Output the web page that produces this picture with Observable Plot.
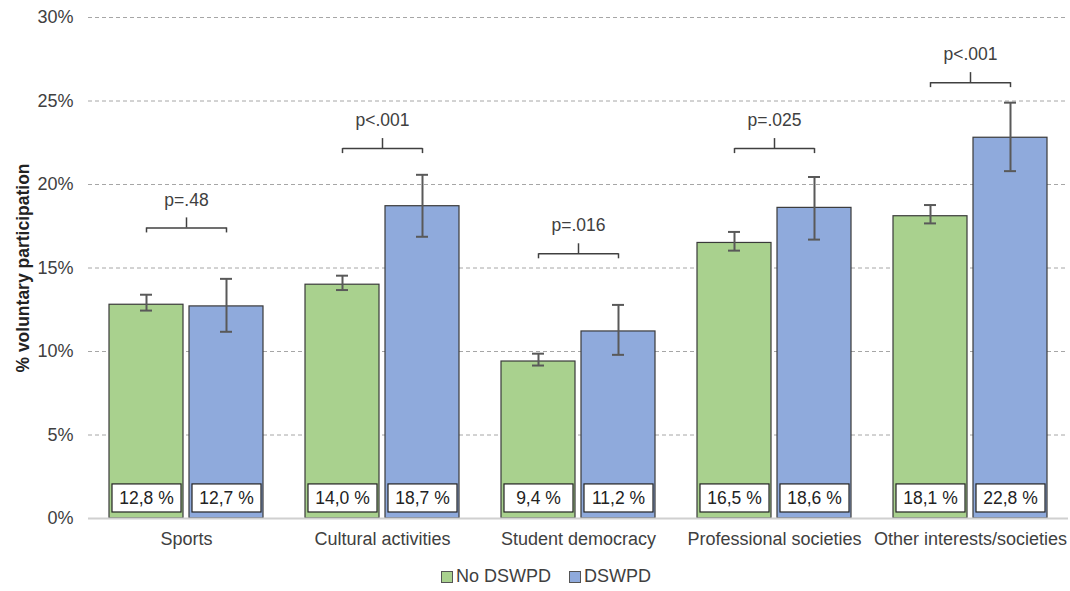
<!DOCTYPE html>
<html><head><meta charset="utf-8">
<script src="https://cdn.jsdelivr.net/npm/d3@7"></script>
<script src="https://cdn.jsdelivr.net/npm/@observablehq/plot@0.6"></script>
<style>
body{margin:0;background:#fff;font-family:"Liberation Sans",Arial,sans-serif;}
#chart svg g[aria-label="y-axis label"] text{font-weight:bold;font-size:17.5px;fill:#222;}
.legend{display:flex;justify-content:center;gap:18px;font-size:18px;color:#404040;margin-top:6px;padding-left:22px;line-height:20px}
.sw{display:inline-block;width:10px;height:10px;border:1px solid #555;margin-right:3px;vertical-align:-1px}
</style></head><body>
<div id="chart"></div>
<div class="legend">
  <span><span class="sw" style="background:#a9d18e"></span>No DSWPD</span>
  <span><span class="sw" style="background:#8faadc"></span>DSWPD</span>
</div>
<script>
const categories = ["Sports", "Cultural activities", "Student democracy", "Professional societies", "Other interests/societies"];
const series = ["No DSWPD", "DSWPD"];
const noDSWPD = [12.8, 14.0, 9.4, 16.5, 18.1];
const noDSWPDLow = [12.45, 13.68, 9.16, 16.04, 17.67];
const noDSWPDHigh = [13.4, 14.54, 9.87, 17.16, 18.77];
const dswpd = [12.7, 18.7, 11.2, 18.6, 22.8];
const dswpdLow = [11.18, 16.87, 9.8, 16.7, 20.8];
const dswpdHigh = [14.35, 20.58, 12.79, 20.45, 24.9];
const pLabels = ["p=.48", "p<.001", "p=.016", "p=.025", "p<.001"];
const bracketY = [17.4, 22.15, 15.85, 22.15, 26.1];
const yTicks = [0, 5, 10, 15, 20, 25, 30];

const rows = categories.flatMap((c, i) => [
  {category: c, series: series[0], value: noDSWPD[i], low: noDSWPDLow[i], high: noDSWPDHigh[i]},
  {category: c, series: series[1], value: dswpd[i], low: dswpdLow[i], high: dswpdHigh[i]}
]);
const brackets = categories.map((c, i) => ({category: c, y: bracketY[i], label: pLabels[i]}));
const bracketEnds = brackets.flatMap(b => series.map(s => ({...b, series: s})));
const fmt = v => v.toFixed(1).replace(".", ",") + " %";
const ink = "#404040";

const chart = Plot.plot({
  width: 1070,
  height: 560,
  marginLeft: 86,
  marginRight: 0,
  marginTop: 17,
  marginBottom: 42,
  style: {fontFamily: "Liberation Sans, Arial, sans-serif", fontSize: "18px", color: ink, background: "#fff"},
  fx: {domain: categories, padding: 0, axis: "bottom", tickSize: 0, tickPadding: 14, label: null},
  x: {domain: series, paddingInner: 0.08, paddingOuter: 0.26, axis: null},
  y: {domain: [0, 30], ticks: yTicks, tickFormat: d => d + "%", tickSize: 0, tickPadding: 15,
      label: "% voluntary participation", labelAnchor: "center", labelOffset: 72, labelArrow: "none"},
  color: {domain: series, range: ["#a9d18e", "#8faadc"]},
  marks: [
    Plot.gridY(yTicks.filter(t => t > 0), {stroke: "#a6a6a6", strokeOpacity: 1, strokeDasharray: "4,3"}),
    Plot.barY(rows, {fx: "category", x: "series", y: "value", fill: "series", stroke: "#3a3a3a", strokeWidth: 1.2}),
    Plot.ruleY([0], {stroke: "#d0d0d0", strokeWidth: 2}),
    Plot.barY(rows, {fx: "category", x: "series", y1: 0.36, y2: 2.04, fill: "white", stroke: "#222", strokeWidth: 1.2, insetLeft: 3, insetRight: 2}),
    Plot.text(rows, {fx: "category", x: "series", y: 1.2, text: d => fmt(d.value), fontSize: 17.5, fill: "#222"}),
    Plot.ruleX(rows, {fx: "category", x: "series", y1: "low", y2: "high", stroke: "#595959", strokeWidth: 2}),
    Plot.tickY(rows, {fx: "category", x: "series", y: "low", stroke: "#595959", strokeWidth: 2, insetLeft: 31, insetRight: 31}),
    Plot.tickY(rows, {fx: "category", x: "series", y: "high", stroke: "#595959", strokeWidth: 2, insetLeft: 31, insetRight: 31}),
    Plot.link(brackets, {fx: "category", x1: () => series[0], x2: () => series[1], y1: "y", y2: "y", stroke: ink, strokeWidth: 1.5}),
    Plot.ruleX(bracketEnds, {fx: "category", x: "series", y1: "y", y2: d => d.y - 0.3, stroke: ink, strokeWidth: 1.5}),
    Plot.ruleX(brackets, {fx: "category", x: null, y1: "y", y2: d => d.y + 0.6, stroke: ink, strokeWidth: 1.5}),
    Plot.text(brackets, {fx: "category", y: "y", text: "label", dy: -28, fontSize: 17.5, fill: ink})
  ]
});
document.getElementById("chart").appendChild(chart);
</script>
</body></html>
